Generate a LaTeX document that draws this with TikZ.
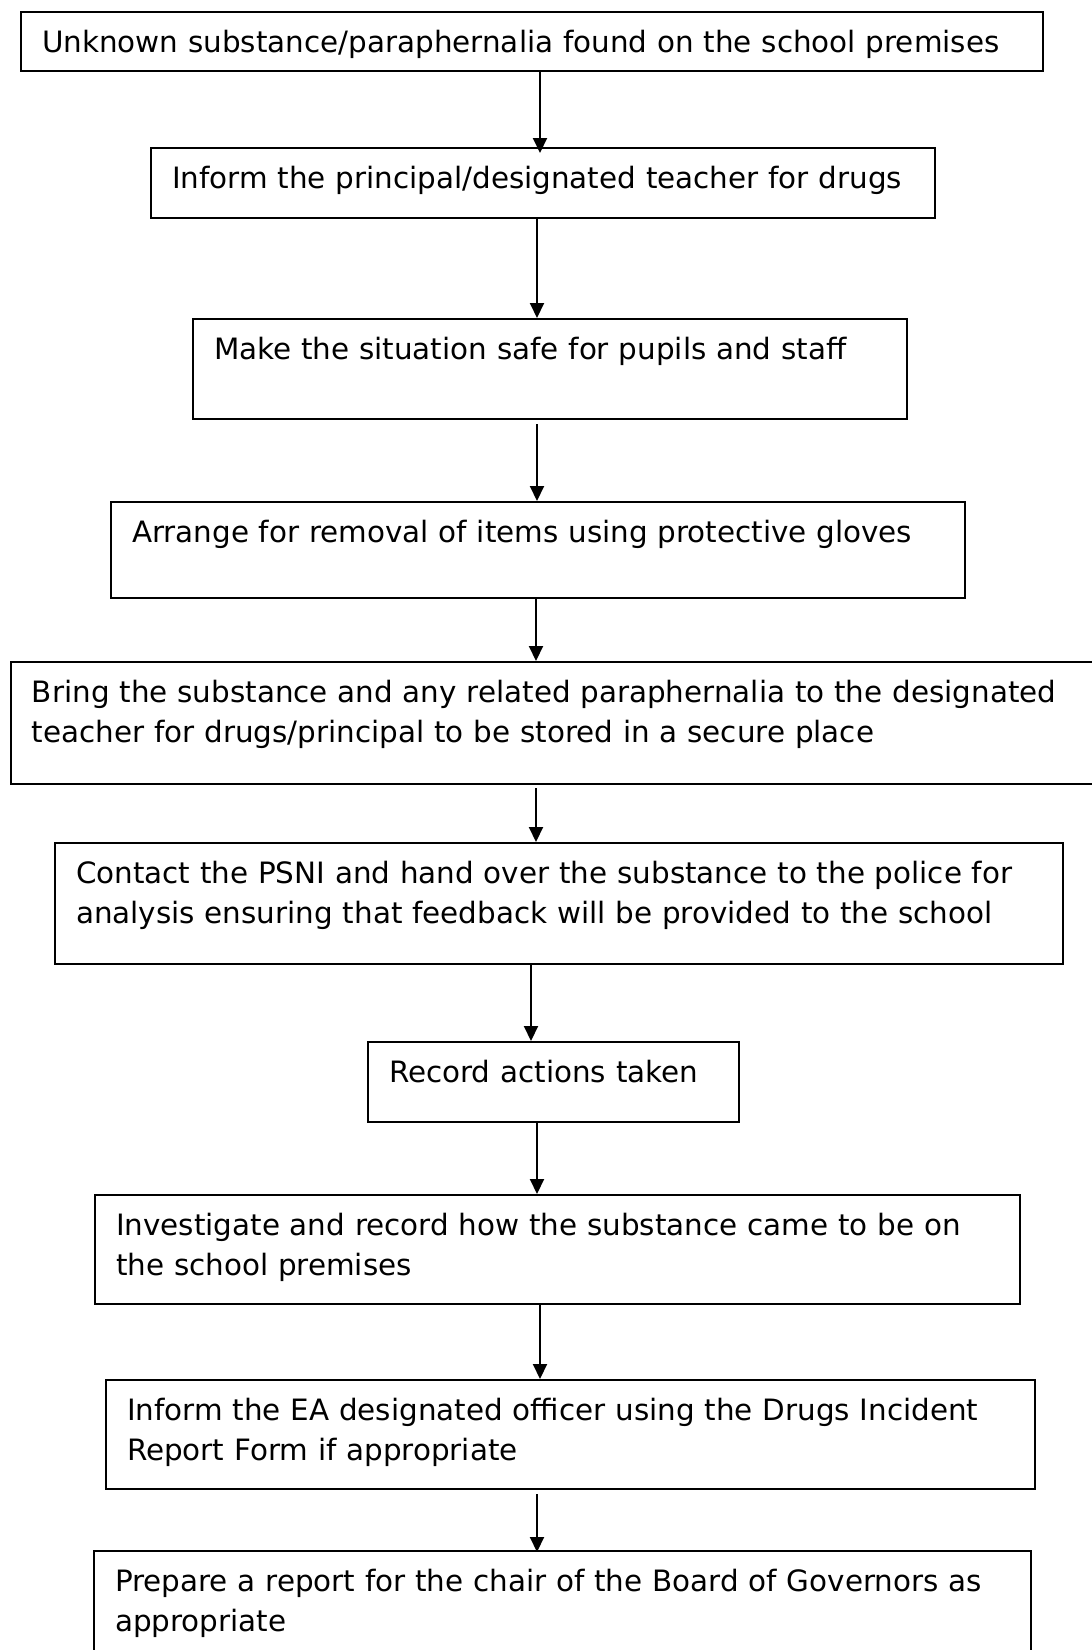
\documentclass[tikz,border=0pt]{standalone}
\usepackage{fontspec}
\setmainfont{DejaVu Sans}
\usetikzlibrary{arrows.meta}

\begin{document}
\begin{tikzpicture}[x=0.5pt,y=-0.5pt,>={Triangle[length=7.5pt,width=7pt]},
  stepbox/.style={draw,line width=1pt,anchor=north west,inner xsep=10.5pt,inner ysep=0pt,align=left,text height=20pt,font=\fontsize{14.7pt}{20pt}\selectfont},
  flow/.style={->,line width=1pt}]
\useasboundingbox (0,0) rectangle (1092,1650);
\node[stepbox,text width=490pt,text depth=9.5pt] (s1) at (20,11) {Unknown substance/paraphernalia found on the school premises};
\node[stepbox,text width=371pt,text depth=15pt] (s2) at (150,147) {Inform the principal/designated teacher for drugs};
\node[stepbox,text width=336pt,text depth=30pt] (s3) at (192,318) {Make the situation safe for pupils and staff};
\node[stepbox,text width=406pt,text depth=28pt] (s4) at (110,501) {Arrange for removal of items using protective gloves};
\node[stepbox,text width=524pt,text depth=41pt] (s5) at (10,661) {Bring the substance and any related paraphernalia to the designated\\teacher for drugs/principal to be stored in a secure place};
\node[stepbox,text width=483pt,text depth=40.5pt] (s6) at (54,842) {Contact the PSNI and hand over the substance to the police for\\analysis ensuring that feedback will be provided to the school};
\node[stepbox,text width=164.5pt,text depth=20pt] (s7) at (367,1041) {Record actions taken};
\node[stepbox,text width=441.5pt,text depth=34.5pt] (s8) at (94,1194) {Investigate and record how the substance came to be on\\the school premises};
\node[stepbox,text width=443.5pt,text depth=34.5pt] (s9) at (105,1379) {Inform the EA designated officer using the Drugs Incident\\Report Form if appropriate};
\node[stepbox,text width=447.5pt,text depth=40pt] (s10) at (93,1550) {Prepare a report for the chair of the Board of Governors as\\appropriate};
% arrows between the steps
\draw[flow,shorten >=-3pt] (s1.south -| 540,0) -- (s2.north -| 540,0);
\draw[flow] (s2.south -| 537,0) -- (s3.north -| 537,0);
\draw[flow,shorten <=2pt] (s3.south -| 537,0) -- (s4.north -| 537,0);
\draw[flow] (s4.south -| 536,0) -- (s5.north -| 536,0);
\draw[flow,shorten <=1.5pt] (s5.south -| 536,0) -- (s6.north -| 536,0);
\draw[flow] (s6.south -| 531,0) -- (s7.north -| 531,0);
\draw[flow] (s7.south -| 537,0) -- (s8.north -| 537,0);
\draw[flow] (s8.south -| 540,0) -- (s9.north -| 540,0);
\draw[flow,shorten <=2pt,shorten >=-1pt] (s9.south -| 537,0) -- (s10.north -| 537,0);
\end{tikzpicture}
\end{document}
